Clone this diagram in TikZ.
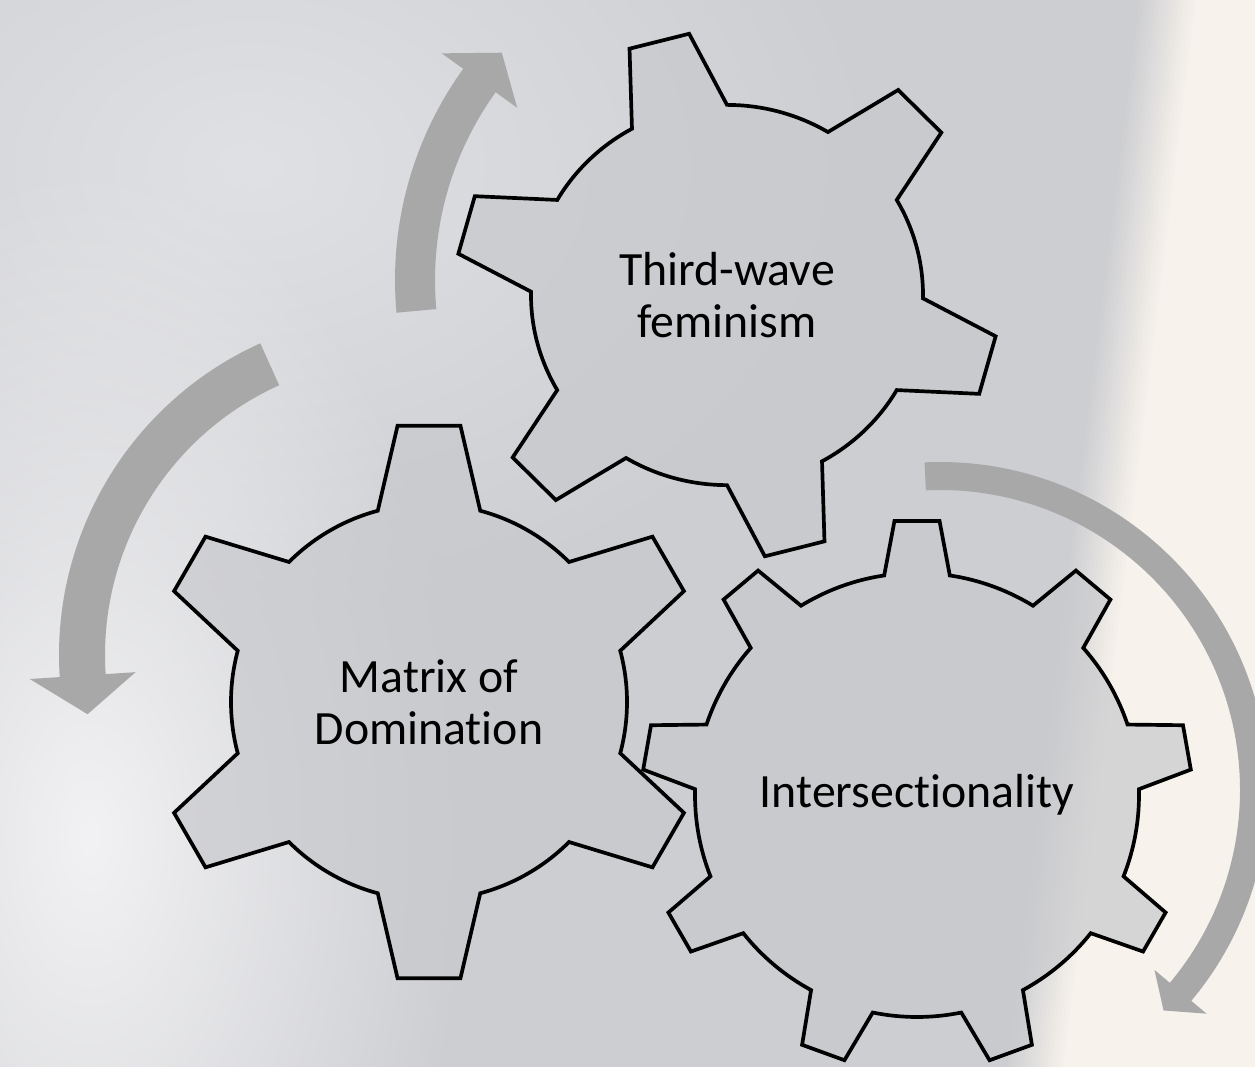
\documentclass[tikz,border=0pt]{standalone}
\usepackage{fontspec}
\setmainfont{Carlito}[Ligatures=NoCommon]
\usepackage{tikz}
\usetikzlibrary{calc, fadings}

\definecolor{bggray}{RGB}{205,206,210}
\definecolor{bglight}{RGB}{242,242,244}
\definecolor{bgtop}{RGB}{224,225,228}
\definecolor{cream}{RGB}{247,242,235}
\definecolor{gearbody}{RGB}{200,201,205}
\definecolor{arrowgray}{RGB}{168,168,168}

\tikzfading[name=softblob, inner color=transparent!0, outer color=transparent!100]

% #1 centre, #2 teeth, #3 first tooth angle, #4 body radius, #5 tip radius,
% #6 half angle at base, #7 half angle at tip, #8 style
\newcommand{\gear}[8]{%
  \path[#8, shift={(#1)}] ({#3-#6}:#4)
    \foreach \k in {1,...,#2}{
      -- ({#3+(\k-1)*360/#2-#7}:#5) -- ({#3+(\k-1)*360/#2+#7}:#5)
      -- ({#3+(\k-1)*360/#2+#6}:#4)
      arc[start angle={#3+(\k-1)*360/#2+#6}, end angle={#3+\k*360/#2-#6}, radius=#4]
    } -- cycle;}

% #1 centre, #2 radius, #3 half width, #4 start, #5 end, #6 head half width, #7 head angle
\newcommand{\circarrow}[7]{%
  \fill[arrowfill, shift={(#1)}] ({#4}:{#2+#3})
    arc[start angle=#4, end angle=#5, radius={#2+#3}]
    -- ({#5}:{#2+#6}) -- ({#5+#7}:#2) -- ({#5}:{#2-#6}) -- ({#5}:{#2-#3})
    arc[start angle=#5, end angle=#4, radius={#2-#3}] -- cycle;}

\begin{document}
\begin{tikzpicture}[x=0.02cm, y=0.02cm,
    gearfill/.style={fill=gearbody, fill opacity=0.7},
    gearline/.style={draw=black, line width=2.1pt, line join=miter},
    arrowfill/.style={fill=arrowgray},
    gearlabel/.style={font=\fontsize{27.2}{29.5}\selectfont, align=center, text=black}
]
    \useasboundingbox (0,0) rectangle (1255,1066);

    \fill[bggray] (-10,-10) rectangle (1265,1076);
    \fill[bgtop, path fading=softblob] (250,900) ellipse [x radius=640, y radius=460];
    \fill[bglight, path fading=softblob] (90,230) ellipse [x radius=380, y radius=680];
    \foreach \i in {1,...,15}{
        \pgfmathtruncatemacro\p{\i*100/15}
        \fill[cream!\p!bggray] ({1002+4*\i},-10) -- ({1137+4*\i},1076) -- (1300,1076) -- (1300,-10) -- cycle;
    }

    \coordinate (tw) at (727,771);
    \coordinate (md) at (429,364);
    \coordinate (is) at (917,271);

    \circarrow{756,786}{341}{20}{185.2}{144.2}{46.5}{-6}
    \circarrow{401,411}{319}{23}{114.3}{183.7}{53}{7}
    \circarrow{940,276}{314}{14}{92.7}{-40}{34}{-4.6}

    \gear{tw}{6}{104.5}{196}{272}{14.5}{6.5}{gearfill, yscale=0.97}
    \gear{md}{6}{90}{198}{278}{15}{6.5}{gearfill}
    \gear{is}{9}{90}{222}{275}{8.5}{4.7}{gearfill}
    \gear{tw}{6}{104.5}{196}{272}{14.5}{6.5}{gearline, yscale=0.97}
    \gear{md}{6}{90}{198}{278}{15}{6.5}{gearline}
    \gear{is}{9}{90}{222}{275}{8.5}{4.7}{gearline}

    \node[gearlabel] (twText) at (tw) {Third-wave\\feminism};
    \node[gearlabel] (mdText) at (md) {Matrix of\\Domination};
    \node[gearlabel] (isText) at (is) {Intersectionality};
\end{tikzpicture}
\end{document}
